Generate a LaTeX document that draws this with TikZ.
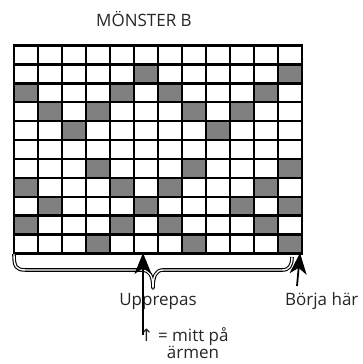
\documentclass[tikz,border=0pt]{standalone}
\usepackage{fontspec}
\setmainfont{Open Sans}
\newfontfamily\symfont{DejaVu Sans}
\usetikzlibrary{arrows.meta}
\tikzset{
  cellgray/.style={fill=black!50},
  gridline/.style={line width=2.2pt, black},
  lbl/.style={font=\fontsize{17}{17}\selectfont, inner sep=0pt, text=black!85},
  bigarrow/.style={line width=1.8pt, -{Stealth[length=21pt, width=17pt, inset=6pt]}},
  bracepath/.style={line width=1.1pt, double=white, double distance=1.4pt, line join=round}
}
\begin{document}
\begin{tikzpicture}[x=1pt, y=-1pt]
\useasboundingbox (0,0) rectangle (363,364);
\def\gx{14}\def\gy{45.7}\def\cw{24}\def\rh{18.87}
% gray cells
\foreach \r/\cols in {2/{6,12},3/{1,5,7,11},4/{2,4,8,10},5/{3,9},7/{4,8,12},8/{1,5,7,11},9/{2,6,10,12},10/{1,5,7,11},11/{4,8,12}}{
  \foreach \c in \cols {
    \fill[cellgray] ({\gx+(\c-1)*\cw},{\gy+(\r-1)*\rh}) rectangle ++(\cw,\rh);
  }
}
% grid lines
\foreach \i in {0,...,12} \draw[gridline] ({\gx+\i*\cw},\gy) -- ({\gx+\i*\cw},{\gy+11*\rh});
\foreach \j in {0,...,11} \draw[gridline] (\gx-1,{\gy+\j*\rh}) -- ({\gx+12*\cw+1},{\gy+\j*\rh});
\draw[line width=2.8pt] (\gx,\gy) rectangle ({\gx+12*\cw},{\gy+11*\rh});
% texts
\node[lbl] (title) at (144,19) {MÖNSTER B};
\node[lbl] (upp) at (158,301) {Upprepas};
\node[lbl, anchor=west] (borja) at (285,301) {Börja här};
\node[lbl, align=center] (mitt) at (184,343) {{\symfont ↑} = mitt på\\\hspace*{18pt}ärmen};
% brace
\draw[bracepath] (14,254) .. controls (14,267) and (16,270) .. (26,270) -- (142,270)
  .. controls (149,270) and (153,275) .. (153,288)
  .. controls (153,276) and (156,270) .. (163,270) -- (282,270)
  .. controls (289,270) and (292,266) .. (292,257);
% arrows
\coordinate (uppbot) at (143,335);
\coordinate (upptop) at (143,253);
\draw[bigarrow] (uppbot) -- (upptop);
\coordinate (borbot) at (297,286);
\coordinate (bortop) at (300,253);
\draw[bigarrow] (borbot) -- (bortop);
\end{tikzpicture}
\end{document}
